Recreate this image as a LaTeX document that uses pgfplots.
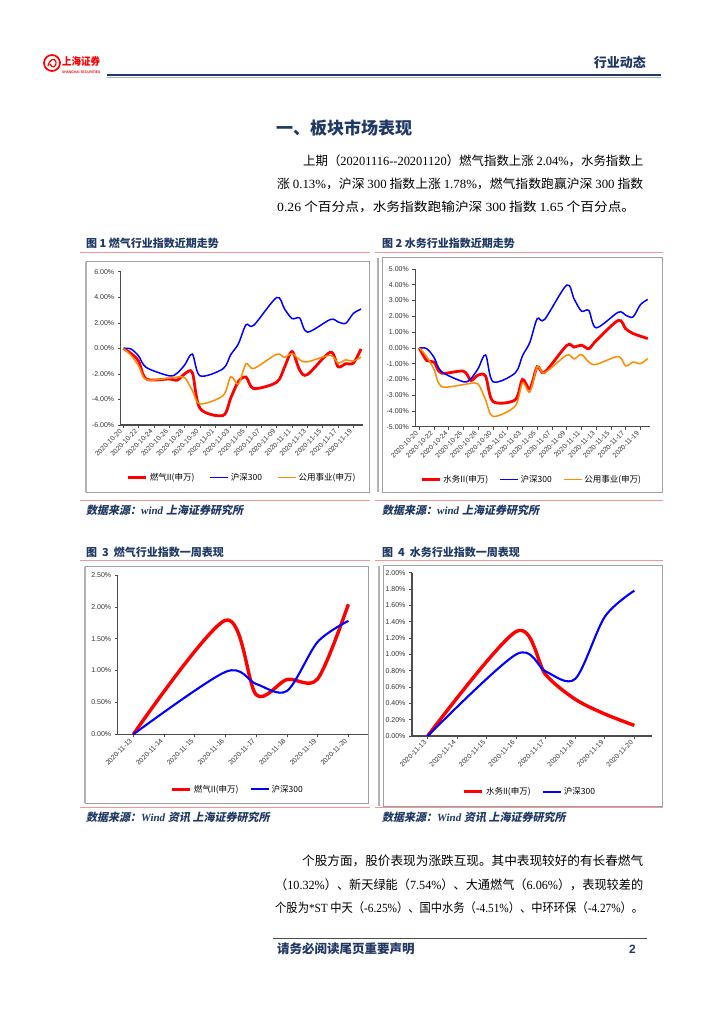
\documentclass[border=0pt]{standalone}
\usepackage{fontspec}
\usepackage{graphicx}
\setmainfont{Liberation Serif}
\newfontfamily\cjk{Noto Sans CJK SC}
\newfontfamily\cjksl[FakeSlant=0.2]{Noto Sans CJK SC}
\newfontfamily\arial{Liberation Sans}
\usepackage{pgfplots}
\usepackage{pgfplotstable}
\pgfplotsset{compat=1.18}
\pgfplotsset{legend image code/.code={\draw[#1] (0pt,0pt) -- (18pt,0pt);}}
\newcommand\zh[1]{{\cjk #1}}
\newcommand\zhs[1]{{\cjksl\bfseries #1}}
\newcommand\fitline[2]{\resizebox{#1}{\height}{#2}}
\definecolor{navy}{RGB}{31,56,100}
\definecolor{pinkline}{RGB}{242,150,150}
\definecolor{myred}{RGB}{255,0,0}
\definecolor{myblue}{RGB}{0,0,255}
\definecolor{myorange}{RGB}{255,140,0}
\definecolor{framegray}{RGB}{160,160,160}
\definecolor{bodytext}{RGB}{30,30,30}

\pgfplotsset{
  rpt/.style={
    scale only axis,
    axis lines=left,
    axis line style={-, line width=1.3pt, draw=black!70},
    tick style={draw=black!70, line width=0.6pt},
    major tick length=3pt,
    tick align=outside,
    yticklabel style={font=\arial\fontsize{7}{8}\selectfont, text=black!80},
    xticklabel style={font=\arial\fontsize{6.8}{8}\selectfont, text=black!80, rotate=45, anchor=east},
    legend style={draw=none, fill=none, inner sep=0pt, font=\cjk\fontsize{8.5}{9}\selectfont, legend columns=-1, /tikz/every even column/.append style={column sep=9pt}},
  }
}

\pgfplotstableread{
d gas hs util water
0 0 0 0 0
1 -0.4 -0.05 -0.55 -0.8
2 -1.0 -0.6 -1.37 -0.9
3 -2.4 -1.5 -2.45 -1.6
6 -2.4 -2.15 -2.33 -1.48
7 -2.5 -1.95 -2.25 -2.07
8 -2.0 -1.3 -2.3 -1.72
9 -1.9 -0.45 -3.3 -1.8
10 -4.7 -2.15 -4.35 -3.4
13 -5.25 -1.6 -3.7 -3.3
14 -3.9 -0.5 -2.22 -2.0
15 -2.6 0.35 -2.8 -2.6
16 -2.25 1.85 -1.2 -1.2
17 -3.15 1.8 -1.58 -1.55
20 -2.65 3.98 -0.46 0.15
21 -1.5 3.1 -0.7 0.05
22 -0.25 2.33 -0.42 0.17
23 -1.7 2.37 -0.9 -0.05
24 -2.05 1.27 -1.05 0.46
27 -0.3 2.26 -0.55 1.74
28 -1.44 2.07 -1.15 1.21
29 -1.2 1.96 -0.9 0.91
30 -1.15 2.74 -1.0 0.74
31 -0.05 3.07 -0.67 0.59
}\dataA

\pgfplotstableread{
d gas hs
0 0 0
3 1.79 0.98
4 0.62 0.79
5 0.86 0.68
6 0.87 1.45
7 2.04 1.78
}\dataC

\pgfplotstableread{
d water hs
0 0 0
3 1.28 1.0
4 0.75 0.79
5 0.45 0.70
6 0.27 1.46
7 0.13 1.78
}\dataD

\begin{document}
\begin{tikzpicture}[x=1pt,y=1pt]
\fill[white] (0,0) rectangle (724,-1024);
\path[use as bounding box] (0,0) rectangle (724,-1024);

% header
\draw[red, line width=1.7pt] (52,-63) circle (8);
\draw[red, line width=1.2pt] (48,-66) .. controls (50,-58) and (55,-58) .. (56,-62) .. controls (57,-67) and (52,-69) .. (50,-64);
\node[text=red, font=\cjk\bfseries\fontsize{10.5}{11}\selectfont, anchor=west, inner sep=0pt] at (62,-61) {\fitline{38pt}{上海证券}};
\node[text=red, font=\arial\bfseries\fontsize{3.6}{4}\selectfont, anchor=west, inner sep=0pt] at (62,-72.5) {\fitline{38pt}{SHANGHAI SECURITIES}};
\draw[navy, line width=2pt] (107,-75.5) -- (661,-75.5);
\draw[navy!40, line width=0.5pt] (107,-77.3) -- (661,-77.3);
\node[text=navy, font=\cjk\bfseries\fontsize{13}{14}\selectfont, anchor=east, inner sep=0pt] at (646,-62) {行业动态};

% section heading and paragraph
\node[anchor=west, inner sep=0pt, text=navy, font=\cjk\bfseries\fontsize{17}{18}\selectfont] at (276,-128) {一、板块市场表现};
\begin{scope}[every node/.style={anchor=west, inner sep=0pt, text=black, font=\fontsize{12.5}{13}\selectfont}]
\node at (303,-161) {\fitline{340pt}{\zh{上期（}20201116{-}{-}20201120\zh{）燃气指数上涨 }2.04\%\zh{，水务指数上}}};
\node at (277,-184) {\fitline{366pt}{\zh{涨 }0.13\%\zh{，沪深 }300\zh{ 指数上涨 }1.78\%\zh{，燃气指数跑赢沪深 }300\zh{ 指数}}};
\node at (277,-207) {\fitline{358pt}{0.26\zh{ 个百分点，水务指数跑输沪深 }300\zh{ 指数 }1.65\zh{ 个百分点。}}};
\node at (302,-861) {\fitline{341pt}{\zh{个股方面，股价表现为涨跌互现。其中表现较好的有长春燃气}}};
\node at (275,-885) {\fitline{368pt}{\zh{（}10.32\%\zh{）、新天绿能（}7.54\%\zh{）、大通燃气（}6.06\%\zh{），表现较差的}}};
\node at (275,-908) {\fitline{368pt}{\zh{个股为}*ST\zh{ 中天（}-6.25\%\zh{）、国中水务（}-4.51\%\zh{）、中环环保（}-4.27\%\zh{）。}}};
\end{scope}

% figure titles, rules, sources
\begin{scope}[every node/.style={anchor=west, inner sep=0pt, text=navy, font=\cjk\bfseries\fontsize{11}{12}\selectfont}]
\node at (86,-243) {图 1 燃气行业指数近期走势};
\node at (382,-243) {图 2 水务行业指数近期走势};
\node at (86,-552) {图\ \ 3\ \ 燃气行业指数一周表现};
\node at (382,-552) {图\ \ 4\ \ 水务行业指数一周表现};
\end{scope}
\begin{scope}[every node/.style={anchor=west, inner sep=0pt, text=navy, font=\fontsize{11}{12}\selectfont}]
\node at (86,-510) {\zhs{数据来源：}\textbf{\textit{wind}} \zhs{上海证券研究所}};
\node at (382,-510) {\zhs{数据来源：}\textbf{\textit{wind}} \zhs{上海证券研究所}};
\node at (86,-817) {\zhs{数据来源：}\textbf{\textit{Wind}} \zhs{资讯 上海证券研究所}};
\node at (382,-817) {\zhs{数据来源：}\textbf{\textit{Wind}} \zhs{资讯 上海证券研究所}};
\end{scope}
\draw[pinkline, line width=0.8pt] (80,-252.5) -- (370,-252.5) (375,-252.5) -- (663,-252.5);
\draw[pinkline, line width=0.8pt] (80,-500) -- (370,-500) (375,-500) -- (663,-500);
\draw[pinkline, line width=0.8pt] (80,-560.7) -- (370,-560.7) (375,-560.7) -- (663,-560.7);
\draw[pinkline, line width=0.8pt] (80,-807.7) -- (370,-807.7) (375,-807.7) -- (663,-807.7);

% frames
\draw[framegray, line width=0.8pt] (86,-261) rectangle (369,-492);
\draw[framegray, line width=0.8pt] (382,-257) rectangle (662,-492);
\draw[framegray, line width=0.8pt] (85,-566) rectangle (368,-803);
\draw[framegray, line width=0.8pt] (383,-565) rectangle (662,-806);
\draw[black!30, line width=1.4pt] (86,-262) -- (86,-492) (85,-567) -- (85,-803) (378,-258) -- (378,-492) (379,-566) -- (379,-806);

% footer
\draw[black!70, line width=1pt] (273,-938.5) -- (647,-938.5);
\node[text=navy, anchor=west, inner sep=0pt, font=\cjk\bfseries\fontsize{12.5}{13}\selectfont] at (277,-949) {请务必阅读尾页重要声明};
\node[text=navy, anchor=west, inner sep=0pt, font=\arial\bfseries\fontsize{12}{13}\selectfont] at (629,-949) {2};

% Chart 1
\begin{axis}[rpt, at={(120.7pt,-425pt)}, anchor=south west, width=242.3pt, height=153.3pt,
  xmin=-0.34, xmax=31.25, ymin=-6, ymax=6,
  ytick={-6,-4,...,6}, yticklabels={-6.00\%,-4.00\%,-2.00\%,0.00\%,2.00\%,4.00\%,6.00\%},
  xtick={0,2,...,30},
  xticklabels={2020-10-20,2020-10-22,2020-10-24,2020-10-26,2020-10-28,2020-10-30,2020-11-01,2020-11-03,2020-11-05,2020-11-07,2020-11-09,2020-11-11,2020-11-13,2020-11-15,2020-11-17,2020-11-19},
  legend style={at={(0.025,-0.341)}, anchor=west, /tikz/every even column/.append style={column sep=13pt}}]
\addplot[smooth, myred, line width=2.8pt] table[x=d, y=gas] {\dataA};
\addlegendentry{燃气II(申万)}
\addplot[smooth, myblue, line width=1.5pt] table[x=d, y=hs] {\dataA};
\addlegendentry{沪深300}
\addplot[smooth, myorange, line width=1.5pt] table[x=d, y=util] {\dataA};
\addlegendentry{公用事业(申万)}
\end{axis}

% Chart 2
\begin{axis}[rpt, at={(415.3pt,-426.7pt)}, anchor=south west, width=234.7pt, height=157.7pt,
  xmin=-0.54, xmax=31.3, ymin=-5, ymax=5,
  ytick={-5,-4,...,5}, yticklabels={-5.00\%,-4.00\%,-3.00\%,-2.00\%,-1.00\%,0.00\%,1.00\%,2.00\%,3.00\%,4.00\%,5.00\%},
  xtick={0,2,...,30},
  xticklabels={2020-10-20,2020-10-22,2020-10-24,2020-10-26,2020-10-28,2020-10-30,2020-11-01,2020-11-03,2020-11-05,2020-11-07,2020-11-09,2020-11-11,2020-11-13,2020-11-15,2020-11-17,2020-11-19},
  legend style={at={(0.022,-0.334)}, anchor=west}]
\addplot[smooth, myred, line width=2.8pt] table[x=d, y=water] {\dataA};
\addlegendentry{水务II(申万)}
\addplot[smooth, myblue, line width=1.5pt] table[x=d, y=hs] {\dataA};
\addlegendentry{沪深300}
\addplot[smooth, myorange, line width=1.5pt] table[x=d, y=util] {\dataA};
\addlegendentry{公用事业(申万)}
\end{axis}

% Chart 3
\begin{axis}[rpt, at={(117.7pt,-734.3pt)}, anchor=south west, width=250.3pt, height=159.3pt,
  xmin=-0.51, xmax=7.64, ymin=0, ymax=2.5,
  ytick={0,0.5,...,2.5}, yticklabels={0.00\%,0.50\%,1.00\%,1.50\%,2.00\%,2.50\%},
  xtick={0,1,...,7},
  xticklabels={2020-11-13,2020-11-14,2020-11-15,2020-11-16,2020-11-17,2020-11-18,2020-11-19,2020-11-20},
  legend style={at={(0.21,-0.345)}, anchor=west}]
\addplot[smooth, myred, line width=3.4pt] table[x=d, y=gas] {\dataC};
\addlegendentry{燃气II(申万)}
\addplot[smooth, myblue, line width=2.1pt] table[x=d, y=hs] {\dataC};
\addlegendentry{沪深300}
\end{axis}

% Chart 4
\begin{axis}[rpt, at={(412pt,-736pt)}, anchor=south west, width=240pt, height=163.3pt,
  xmin=-0.53, xmax=7.6, ymin=0, ymax=2.0,
  ytick={0,0.2,...,2.0}, yticklabels={0.00\%,0.20\%,0.40\%,0.60\%,0.80\%,1.00\%,1.20\%,1.40\%,1.60\%,1.80\%,2.00\%},
  xtick={0,1,...,7},
  xticklabels={2020-11-13,2020-11-14,2020-11-15,2020-11-16,2020-11-17,2020-11-18,2020-11-19,2020-11-20},
  legend style={at={(0.21,-0.341)}, anchor=west}]
\addplot[smooth, myred, line width=3.4pt] table[x=d, y=water] {\dataD};
\addlegendentry{水务II(申万)}
\addplot[smooth, myblue, line width=2.1pt] table[x=d, y=hs] {\dataD};
\addlegendentry{沪深300}
\end{axis}
\end{tikzpicture}
\end{document}
